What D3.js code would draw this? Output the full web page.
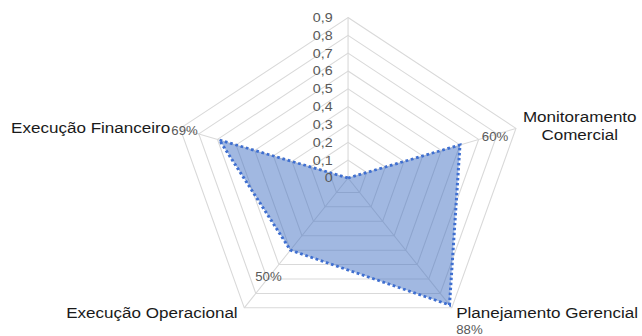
<!DOCTYPE html>
<html>
<head>
<meta charset="utf-8">
<script src="https://cdn.jsdelivr.net/npm/d3@7/dist/d3.min.js"></script>
<style>
  html, body { margin: 0; padding: 0; background: #fff; }
  svg { display: block; font-family: "Liberation Sans", Arial, sans-serif; }
</style>
</head>
<body>
<svg id="chart" width="642" height="336"></svg>
<script>
// Radar data
const categories = ["", "Monitoramento Comercial", "Planejamento Gerencial", "Execução Operacional", "Execução Financeiro"];
const values = [0, 0.60, 0.88, 0.50, 0.69];
const valueLabels = ["", "60%", "88%", "50%", "69%"];
const tickValues = [0, 0.1, 0.2, 0.3, 0.4, 0.5, 0.6, 0.7, 0.8, 0.9];
const tickLabels = ["0", "0,1", "0,2", "0,3", "0,4", "0,5", "0,6", "0,7", "0,8", "0,9"];

// Layout (the plot is drawn slightly wider than tall)
const stretchX = 1.1;
const cx = 316.4, cy = 178, outerR = 160.5;
const rMax = 0.9;

// Label nudges relative to each axis' outer vertex: [dx, dy, anchor]
const categoryNudge = [null, [58, -6, "middle"], [4, 10.5, "start"], [-6, 10.5, "end"], [-9, 4.5, "end"]];
const valueNudge = [null, [-7, 13, "end"], [4, 26, "start"], [10, -27, "start"], [-8, 7, "start"]];

const svg = d3.select("#chart");
const g = svg.append("g").attr("transform", `scale(${stretchX},1)`);

const r = d3.scaleLinear().domain([0, rMax]).range([0, outerR]);
const n = categories.length;
const angle = d3.scaleLinear().domain([0, n]).range([0, 2 * Math.PI]);
const pt = (i, v) => {
  const a = angle(i);
  return [cx + r(v) * Math.sin(a), cy - r(v) * Math.cos(a)];
};

// Grid rings
const ringLine = d3.line();
tickValues.filter(t => t > 0).forEach(t => {
  const pts = d3.range(n).map(i => pt(i, t));
  g.append("path")
    .attr("d", ringLine(pts) + "Z")
    .attr("fill", "none")
    .attr("stroke", "#d9d9d9")
    .attr("stroke-width", 1);
});

// Spokes
d3.range(n).forEach(i => {
  const [x, y] = pt(i, rMax);
  g.append("line")
    .attr("x1", cx).attr("y1", cy).attr("x2", x).attr("y2", y)
    .attr("stroke", "#d9d9d9").attr("stroke-width", 1);
});

// Series area
const area = d3.range(n).map(i => pt(i, values[i]));
g.append("path")
  .attr("d", d3.line()(area) + "Z")
  .attr("fill", "#4472C4")
  .attr("fill-opacity", 0.5)
  .attr("stroke", "#3f6fd0")
  .attr("stroke-width", 2.75)
  .attr("stroke-dasharray", "2.5 2.5")
  .attr("stroke-linejoin", "miter");

// Radial tick labels
g.append("g").selectAll("text")
  .data(tickValues)
  .join("text")
  .attr("x", cx - 14)
  .attr("y", d => cy - r(d) + 4.5)
  .attr("text-anchor", "end")
  .attr("font-size", 13)
  .attr("fill", "#595959")
  .text((d, i) => tickLabels[i]);

// Category labels
d3.range(n).forEach(i => {
  if (!categories[i]) return;
  const [x, y] = pt(i, rMax);
  const [dx, dy, anchor] = categoryNudge[i];
  const t = g.append("text")
    .attr("x", x + dx).attr("y", y + dy)
    .attr("text-anchor", anchor)
    .attr("font-size", 15.5)
    .attr("fill", "#1a1a1a");
  if (anchor === "middle") {
    const words = categories[i].split(" ");
    words.forEach((w, k) => {
      t.append("tspan").attr("x", x + dx).attr("dy", k === 0 ? 0 : 18).text(w);
    });
  } else {
    t.text(categories[i]);
  }
});

// Value labels
d3.range(n).forEach(i => {
  if (!valueLabels[i]) return;
  const [x, y] = pt(i, rMax);
  const [dx, dy, anchor] = valueNudge[i];
  g.append("text")
    .attr("x", x + dx).attr("y", y + dy)
    .attr("text-anchor", anchor)
    .attr("font-size", 12)
    .attr("fill", "#595959")
    .text(valueLabels[i]);
});
</script>
</body>
</html>
